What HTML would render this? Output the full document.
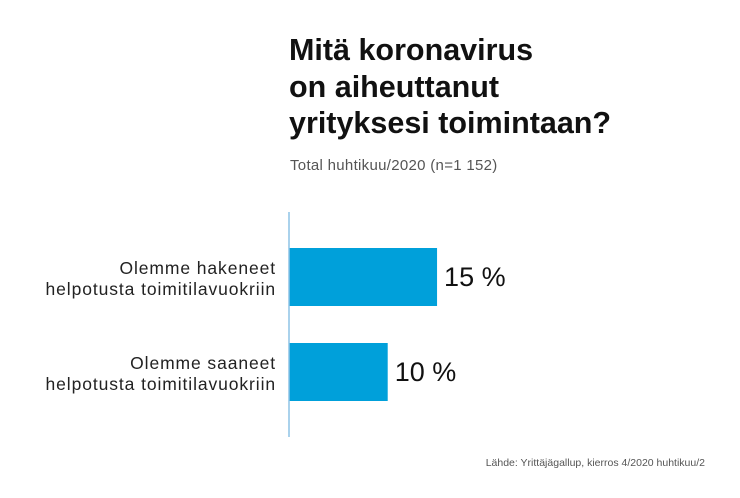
<!DOCTYPE html>
<html><head><meta charset="utf-8"><style>
body{margin:0;background:#fff;width:740px;height:493px;overflow:hidden;font-family:"Liberation Sans",sans-serif}
</style></head><body>
<svg width="740" height="493" xmlns="http://www.w3.org/2000/svg">
<g font-weight="bold" font-size="30.5" fill="#111">
<text x="289" y="60">Mitä koronavirus</text>
<text x="289" y="97">on aiheuttanut</text>
<text x="289" y="133">yrityksesi toimintaan?</text>
</g>
<text x="290" y="170" font-size="15" fill="#555" letter-spacing="0.3">Total huhtikuu/2020 (n=1 152)</text>
<g id="bars"></g>
<line x1="289" y1="212" x2="289" y2="437" stroke="#8ec3e6" stroke-width="1.5"/>
<text x="705" y="466" font-size="10.5" fill="#555" text-anchor="end">Lähde: Yrittäjägallup, kierros 4/2020 huhtikuu/2</text>
</svg>
<script>
const categories = [["Olemme hakeneet","helpotusta toimitilavuokriin"],["Olemme saaneet","helpotusta toimitilavuokriin"]];
const values = [15, 10];
const valueLabels = ["15 %", "10 %"];
const x0 = 289, pxPerUnit = 9.87;
const xs = v => x0 + v * pxPerUnit;
const ys = i => 248 + i * 95;
const g = document.getElementById('bars');
const NS = "http://www.w3.org/2000/svg";
values.forEach((v, i) => {
  const r = document.createElementNS(NS, 'rect');
  
  
  r.setAttribute('x', x0); r.setAttribute('y', ys(i));
  r.setAttribute('width', xs(v) - x0); r.setAttribute('height', 58);
  r.setAttribute('fill', '#00a0da');
  g.appendChild(r);
  const t = document.createElementNS(NS, 'text');
  
  
  t.setAttribute('x', xs(v) + 7); t.setAttribute('y', ys(i) + 38);
  t.setAttribute('font-size', '27'); t.setAttribute('fill', '#111');
  t.textContent = valueLabels[i];
  g.appendChild(t);
  categories[i].forEach((line, j) => {
    const c = document.createElementNS(NS, 'text');
    
    
    c.setAttribute('x', 276); c.setAttribute('y', ys(i) + 26 + j * 21);
    c.setAttribute('text-anchor', 'end'); c.setAttribute('font-size', '17.5'); c.setAttribute('letter-spacing', '0.9'); c.setAttribute('fill', '#222');
    c.textContent = line;
    g.appendChild(c);
  });
});
</script>
</body></html>
